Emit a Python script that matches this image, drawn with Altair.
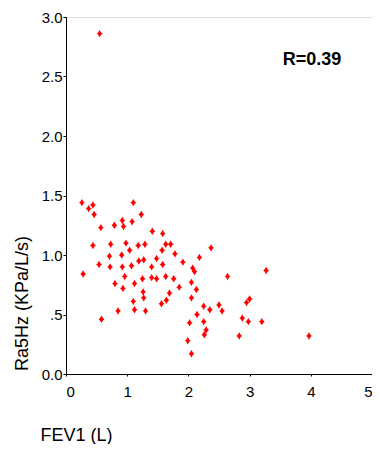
import altair as alt
import pandas as pd

fev1 = [0.55, 0.26, 0.37, 0.44, 0.46, 1.10, 1.23, 0.57, 0.79, 0.92,
        0.94, 1.08, 0.44, 0.73, 0.98, 1.04, 1.18, 1.29, 0.71, 0.91,
        0.54, 0.72, 0.92, 1.07, 1.19, 1.27, 1.41, 1.58, 1.63, 1.71,
        1.57, 1.78, 1.48, 2.37, 2.18, 1.91, 1.58, 2.07, 1.40, 0.28,
        0.80, 0.93, 0.96, 1.12, 1.25, 1.26, 1.27, 1.10, 0.85, 1.12,
        1.30, 0.58, 1.48, 1.63, 1.76, 1.85, 1.69, 1.56, 1.64, 2.05,
        2.13, 2.05, 2.10, 2.25, 2.35, 2.50, 2.55, 2.14, 2.02, 2.25,
        2.29, 2.26, 1.99, 2.05, 2.64, 3.27, 3.00, 2.95, 2.88, 2.98,
        3.20, 2.83, 3.97, 1.40]
ra5 = [2.86, 1.44, 1.39, 1.42, 1.34, 1.44, 1.34, 1.23, 1.25, 1.29,
       1.24, 1.28, 1.08, 1.09, 1.10, 1.04, 1.08, 1.09, 0.99, 1.00,
       0.92, 0.90, 0.90, 0.91, 0.95, 0.96, 1.20, 1.18, 1.09, 1.09,
       1.04, 1.01, 0.97, 1.06, 0.98, 0.94, 0.92, 0.89, 0.90, 0.84,
       0.76, 0.72, 0.82, 0.76, 0.80, 0.69, 0.64, 0.61, 0.53, 0.54,
       0.53, 0.46, 0.80, 0.82, 0.80, 0.73, 0.68, 0.59, 0.62, 0.77,
       0.71, 0.64, 0.86, 0.57, 0.54, 0.58, 0.53, 0.50, 0.43, 0.44,
       0.37, 0.33, 0.28, 0.17, 0.82, 0.87, 0.63, 0.60, 0.47, 0.44,
       0.44, 0.32, 0.32, 0.81]

x_ticks = [0, 1, 2, 3, 4, 5]
y_ticks = [0.0, 0.5, 1.0, 1.5, 2.0, 2.5, 3.0]
annotation = ["R=0.39"]

df = pd.DataFrame({"fev1": fev1, "ra5": ra5})

FONT = "Liberation Sans"
marker = "M0,-1L0.45,-0.25L0.8,0L0.45,0.25L0,1L-0.45,0.25L-0.8,0L-0.45,-0.25Z"

points = alt.Chart(df).mark_point(
    shape=marker, filled=True, color="#ff0000", size=55, opacity=1
).encode(
    x=alt.X("fev1:Q", scale=alt.Scale(domain=[0, 5], nice=False),
            axis=alt.Axis(values=x_ticks, title="FEV1 (L)", format="d",
                          grid=False, domainColor="black", tickColor="black",
                          tickSize=2, labelPadding=8, labelFontSize=15,
                          labelFont=FONT, labelColor="black",
                          titleFont=FONT, titleFontSize=18, titleFontWeight="normal",
                          titleColor="black", titleAnchor="start", titleAlign="left",
                          titleX=-26, titleY=70, titleBaseline="bottom")),
    y=alt.Y("ra5:Q", scale=alt.Scale(domain=[0, 3], nice=False),
            axis=alt.Axis(values=y_ticks, title="Ra5Hz (KPa/L/s)",
                          labelExpr="datum.value == 0.5 ? '.5' : format(datum.value, '.1f')",
                          grid=False, domainColor="black", tickColor="black",
                          tickSize=3, labelPadding=1, labelFontSize=15,
                          labelFont=FONT, labelColor="black",
                          titleFont=FONT, titleFontSize=18, titleFontWeight="normal",
                          titleColor="black", titleAngle=270, titleX=-44, titleY=286,
                          titleAlign="center", titleBaseline="middle")),
)

label = alt.Chart(pd.DataFrame({"t": annotation})).mark_text(
    font=FONT, fontSize=18, fontWeight="bold", color="black", align="center",
    baseline="middle"
).encode(text="t:N", x=alt.value(246), y=alt.value(43))

chart = (points + label).properties(
    width=306, height=357,
    autosize=alt.AutoSizeParams(type="none"),
    padding={"left": 58, "top": 9, "right": 0, "bottom": 70},
).configure_view(stroke="black", strokeWidth=1).configure(background="white")

chart.save("out.html", embed_options={"renderer": "svg", "actions": False})
